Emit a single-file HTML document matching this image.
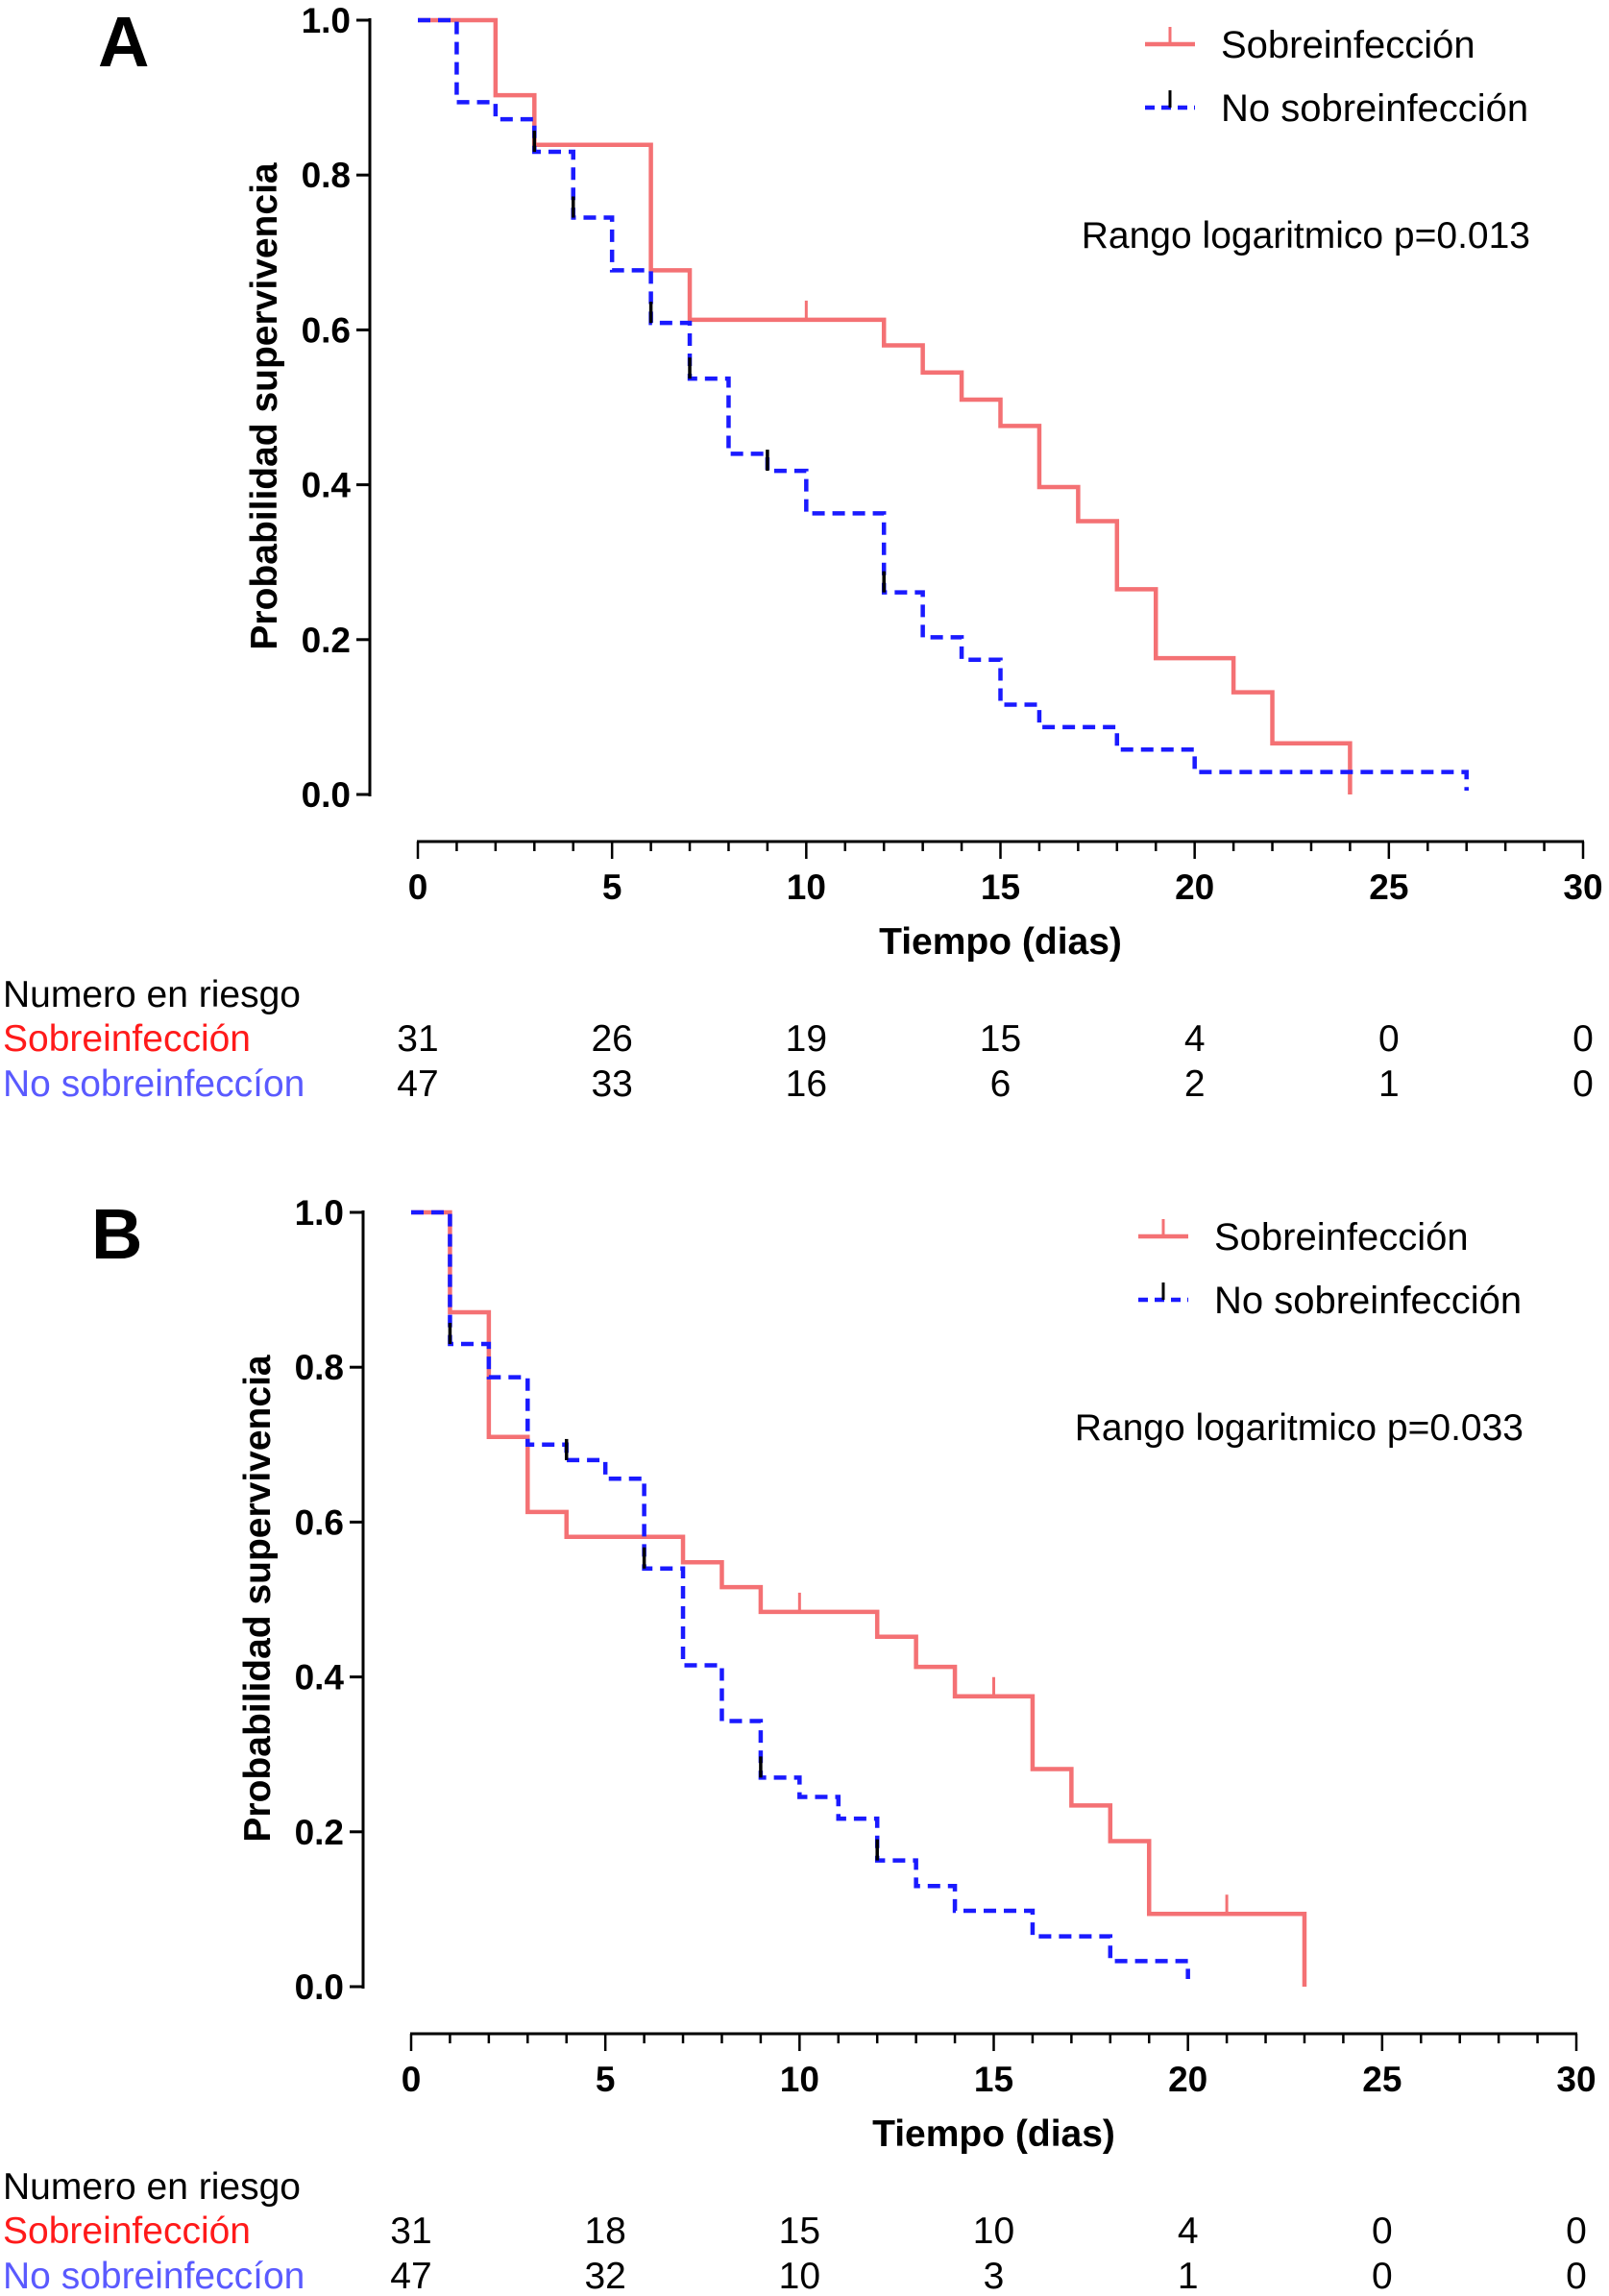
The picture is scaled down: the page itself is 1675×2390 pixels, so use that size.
<!DOCTYPE html>
<html><head><meta charset="utf-8"><style>
body{margin:0;background:#fff;}
svg{display:block;font-family:"Liberation Sans",Arial,sans-serif;}
</style></head><body>
<svg id="c" width="1675" height="2390" viewBox="0 0 1675 2390" xmlns="http://www.w3.org/2000/svg"></svg>
<script>
const yTicks=[0,0.2,0.4,0.6,0.8,1.0];
const xTicks=[0,5,10,15,20,25,30];
const aRedT=[0,2,3,6,7,12,13,14,15,16,17,18,19,21,22,24];
const aRedS=[1,0.903,0.839,0.677,0.613,0.58,0.545,0.51,0.476,0.397,0.353,0.265,0.176,0.132,0.066,0];
const aRedCens=[[10,0.613]];
const aBlueT=[0,1,2,3,4,5,6,7,8,9,10,12,13,14,15,16,18,20,27];
const aBlueS=[1,0.894,0.872,0.830,0.745,0.677,0.609,0.537,0.44,0.418,0.363,0.261,0.203,0.174,0.116,0.087,0.058,0.029,0.005];
const aBlueCens=[3,4,6,7,9,12];
const bRedT=[0,1,2,3,4,7,8,9,12,13,14,16,17,18,19,23];
const bRedS=[1,0.871,0.71,0.613,0.581,0.548,0.516,0.484,0.452,0.413,0.375,0.281,0.234,0.188,0.094,0];
const bRedCens=[[10,0.484],[15,0.375],[21,0.094]];
const bBlueT=[0,1,2,3,4,5,6,7,8,9,10,11,12,13,14,16,18,20];
const bBlueS=[1,0.83,0.787,0.70,0.68,0.656,0.54,0.415,0.343,0.27,0.245,0.217,0.163,0.13,0.098,0.065,0.033,0.01];
const bBlueCens=[1,4,6,9,12];
const aRiskRed=[31,26,19,15,4,0,0];
const aRiskBlue=[47,33,16,6,2,1,0];
const bRiskRed=[31,18,15,10,4,0,0];
const bRiskBlue=[47,32,10,3,1,0,0];
const pA="Rango logaritmico p=0.013", pB="Rango logaritmico p=0.033";

const svg=document.getElementById('c');
const NS='http://www.w3.org/2000/svg';
function mk(tag,attrs,parent,text){const e=document.createElementNS(NS,tag);for(const k in attrs)e.setAttribute(k,attrs[k]);if(text!==undefined)e.textContent=text;(parent||svg).appendChild(e);return e;}

function panel(P){
  const g=mk('g',{});
  
  
  const X=t=>P.x0+(P.x30-P.x0)*t/30;
  const Y=s=>P.y0+(P.y1-P.y0)*s;
  const L=mk('text',{x:P.yax-283,y:P.y1+48,'font-size':74,'font-weight':'bold'},g,P.id);
  
  const ya=mk('line',{x1:P.yax,y1:P.y1-2,x2:P.yax,y2:P.y0+2,stroke:'#000','stroke-width':3},g);
  
  yTicks.forEach(v=>{
    mk('line',{x1:P.yax-14,y1:Y(v),x2:P.yax,y2:Y(v),stroke:'#000','stroke-width':3},g);
    const t=mk('text',{x:P.yax-20,y:Y(v)+13,'font-size':37,'font-weight':'bold','text-anchor':'end'},g,v.toFixed(1));
    
  });
  const yt=mk('text',{x:0,y:0,'font-size':39,'font-weight':'bold','text-anchor':'middle',transform:`translate(${P.yax-97},${(P.y0+P.y1)/2-1}) rotate(-90)`},g,'Probabilidad supervivencia');
  
  const xa=mk('line',{x1:X(0)-1,y1:P.xay,x2:X(30)+1,y2:P.xay,stroke:'#000','stroke-width':3},g);
  
  for(let d=0;d<=30;d++){mk('line',{x1:X(d),y1:P.xay,x2:X(d),y2:P.xay+(d%5?10:18),stroke:'#000','stroke-width':2.5},g);}
  xTicks.forEach(v=>{const t=mk('text',{x:X(v),y:P.xay+60,'font-size':37,'font-weight':'bold','text-anchor':'middle'},g,v);
    });
  const xt=mk('text',{x:X(15),y:P.xay+117,'font-size':39,'font-weight':'bold','text-anchor':'middle'},g,'Tiempo (dias)');
  
  function step(T,S){let d=`M${X(T[0])},${Y(S[0])}`;for(let i=1;i<T.length;i++){d+=`H${X(T[i])}V${Y(S[i])}`;}return d;}
  const rc=mk('path',{d:step(P.rT,P.rS),fill:'none',stroke:'#f47174','stroke-width':4.5},g);
  
  P.rC.forEach(c=>{mk('line',{x1:X(c[0]),y1:Y(c[1]),x2:X(c[0]),y2:Y(c[1])-20,stroke:'#f47174','stroke-width':3},g);});
  const bc=mk('path',{d:step(P.bT,P.bS),fill:'none',stroke:'#1a1aff','stroke-width':4.5,'stroke-dasharray':'13 8'},g);
  
  P.bC.forEach(t=>{const i=P.bT.indexOf(t);if(i<1)return;const yb=Y(P.bS[i]);mk('line',{x1:X(t),y1:yb-22,x2:X(t),y2:yb,stroke:'#000','stroke-width':3.5},g);});
  const lx=P.yax+807, ly=P.y1+25;
  const le1=mk('g',{},g);
  mk('line',{x1:lx,y1:ly,x2:lx+52,y2:ly,stroke:'#f47174','stroke-width':4.5},le1);
  mk('line',{x1:lx+26,y1:ly,x2:lx+26,y2:ly-18,stroke:'#f47174','stroke-width':3},le1);
  mk('text',{x:lx+79,y:ly+14,'font-size':40},le1,'Sobreinfección');
  const le2=mk('g',{},g);
  mk('line',{x1:lx,y1:ly+66,x2:lx+52,y2:ly+66,stroke:'#1a1aff','stroke-width':4.5,'stroke-dasharray':'10 7'},le2);
  mk('line',{x1:lx+26,y1:ly+66,x2:lx+26,y2:ly+48,stroke:'#000','stroke-width':3},le2);
  mk('text',{x:lx+79,y:ly+80,'font-size':40},le2,'No sobreinfección');
  const pt=mk('text',{x:P.yax+1208,y:P.y1+237,'font-size':39,'text-anchor':'end'},g,P.p);
  
  const rt=mk('g',{},g);
  const ry=P.xay+172;
  mk('text',{x:3,y:ry,'font-size':39},rt,'Numero en riesgo');
  mk('text',{x:3,y:ry+46,'font-size':39,fill:'#ff1a1a'},rt,'Sobreinfección');
  mk('text',{x:3,y:ry+93,'font-size':39,fill:'#5a5aff'},rt,'No sobreinfeccíon');
  xTicks.forEach((v,i)=>{
    mk('text',{x:X(v),y:ry+46,'font-size':39,'text-anchor':'middle'},rt,P.rr[i]);
    mk('text',{x:X(v),y:ry+93,'font-size':39,'text-anchor':'middle'},rt,P.br[i]);
  });
}
panel({id:'A',yax:385,y1:21,y0:827,xay:876,x0:435,x30:1648,rT:aRedT,rS:aRedS,rC:aRedCens,bT:aBlueT,bS:aBlueS,bC:aBlueCens,rr:aRiskRed,br:aRiskBlue,p:pA});
panel({id:'B',yax:378,y1:1262,y0:2068,xay:2117,x0:428,x30:1641,rT:bRedT,rS:bRedS,rC:bRedCens,bT:bBlueT,bS:bBlueS,bC:bBlueCens,rr:bRiskRed,br:bRiskBlue,p:pB});
</script>
</body></html>
